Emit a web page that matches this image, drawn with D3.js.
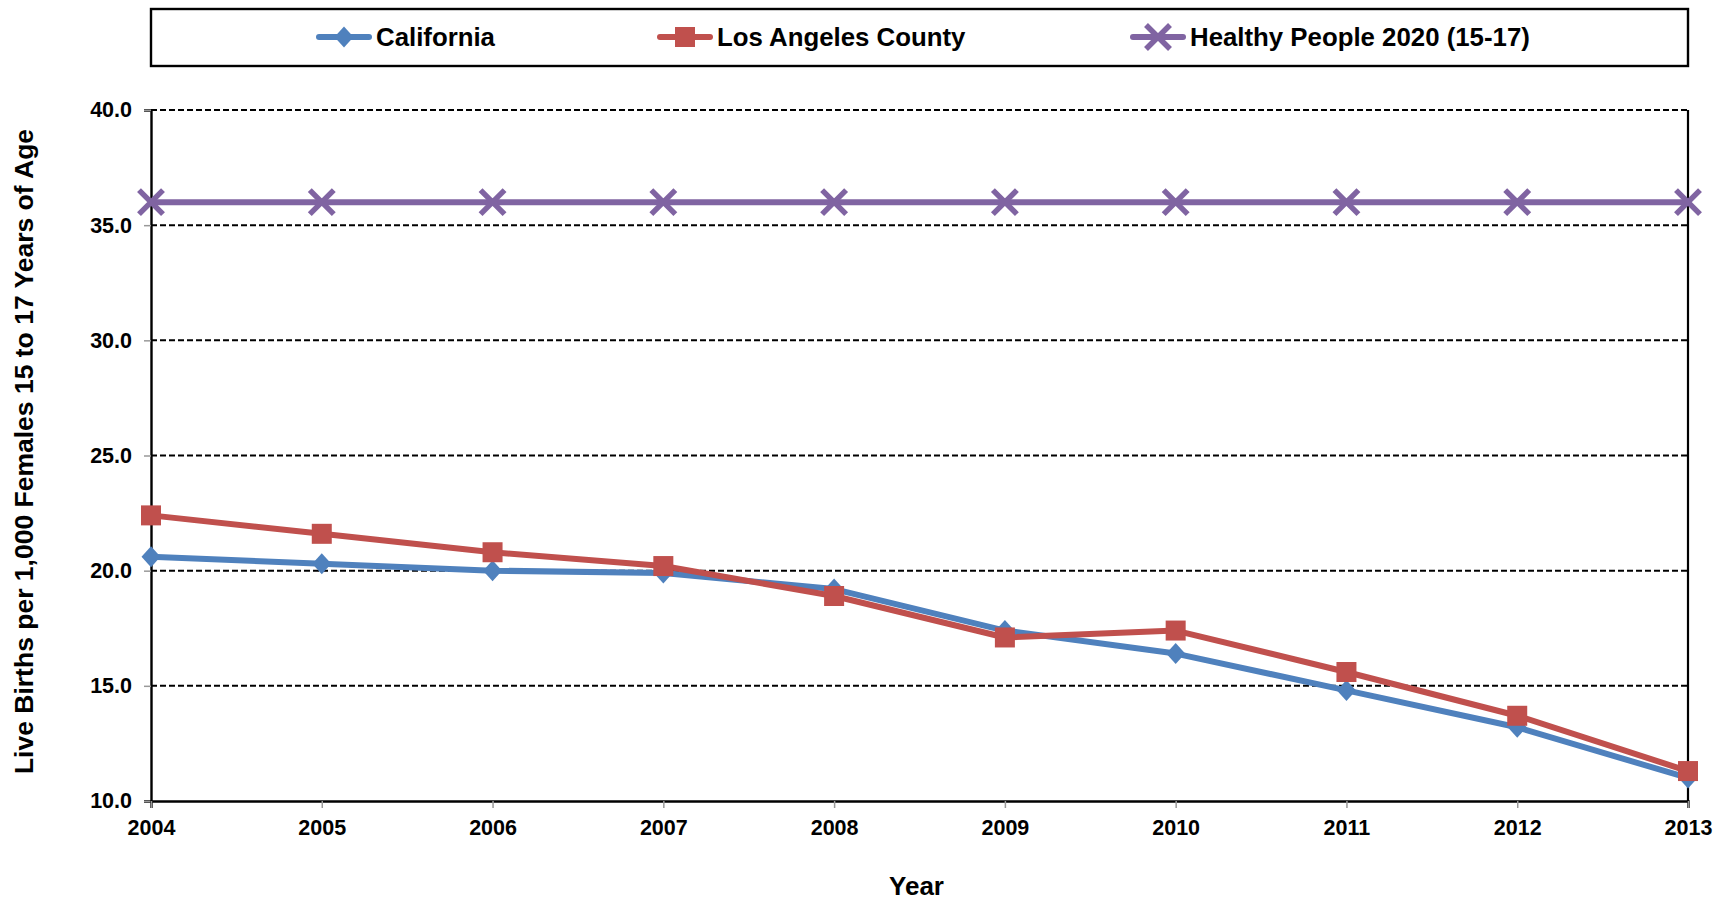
<!DOCTYPE html>
<html>
<head>
<meta charset="utf-8">
<script src="https://cdn.jsdelivr.net/npm/d3@7"></script>
<style>
  html, body { margin: 0; padding: 0; background: #fff; }
  svg { display: block; }
  text { font-family: "Liberation Sans", Arial, sans-serif; font-weight: bold; fill: #000; }
</style>
</head>
<body>
<svg id="chart" width="1725" height="900"></svg>
<script>
const years = [2004, 2005, 2006, 2007, 2008, 2009, 2010, 2011, 2012, 2013];
const california = [20.6, 20.3, 20.0, 19.9, 19.2, 17.4, 16.4, 14.8, 13.2, 11.0];
const losAngeles = [22.4, 21.6, 20.8, 20.2, 18.9, 17.1, 17.4, 15.6, 13.7, 11.3];
const healthyPeople = [36.0, 36.0, 36.0, 36.0, 36.0, 36.0, 36.0, 36.0, 36.0, 36.0];
const yTicks = [10, 15, 20, 25, 30, 35, 40];
const seriesNames = ["California", "Los Angeles County", "Healthy People 2020 (15-17)"];
const seriesColors = ["#4F81BD", "#C0504D", "#8064A2"];
const seriesMarkers = ["diamond", "square", "x"];
const yTitle = "Live Births per 1,000 Females 15 to 17 Years of Age";
const xTitle = "Year";

const svg = d3.select("#chart");
const L = 151, R = 1688, T = 110, B = 801;

const x = d3.scalePoint().domain(years).range([L, R]).padding(0);
const y = d3.scaleLinear().domain([10, 40]).range([B, T]);

// gridlines
svg.append("g").selectAll("line").data(yTicks.filter(d => d > 10)).join("line")
  .attr("x1", L).attr("x2", R).attr("y1", d => y(d)).attr("y2", d => y(d))
  .attr("stroke", "#000").attr("stroke-width", 2).attr("stroke-dasharray", "6,3");

// right border
svg.append("line").attr("x1", R).attr("x2", R).attr("y1", T).attr("y2", B)
  .attr("stroke", "#000").attr("stroke-width", 2.2);

const tickFont = "21.5px";
// axes
const yAxis = d3.axisLeft(y).tickValues(yTicks).tickFormat(d3.format(".1f")).tickSize(7).tickPadding(12);
const gy = svg.append("g").attr("transform", `translate(${L},0)`).call(yAxis);
gy.select(".domain").attr("stroke", "#000").attr("stroke-width", 2.4);
gy.selectAll(".tick line").attr("stroke", "#999").attr("stroke-width", 1.5);
gy.selectAll(".tick text").style("font-size", tickFont).style("font-family", '"Liberation Sans", Arial, sans-serif').style("font-weight", "bold").attr("fill", "#000");

const xAxis = d3.axisBottom(x).tickSize(7).tickPadding(12);
const gx = svg.append("g").attr("transform", `translate(0,${B})`).call(xAxis);
gx.select(".domain").attr("stroke", "#000").attr("stroke-width", 2.4);
gx.selectAll(".tick line").attr("stroke", "#999").attr("stroke-width", 1.5);
gx.selectAll(".tick text").style("font-size", tickFont).style("font-family", '"Liberation Sans", Arial, sans-serif').style("font-weight", "bold").attr("fill", "#000");

function drawMarker(g, type, color) {
  if (type === "diamond") {
    g.append("path").attr("d", "M0,-10.5L9.5,0L0,10.5L-9.5,0Z").attr("fill", color);
  } else if (type === "square") {
    g.append("rect").attr("x", -10).attr("y", -10).attr("width", 20).attr("height", 20).attr("fill", color);
  } else {
    g.append("path").attr("d", "M-12,-12L12,12M-12,12L12,-12").attr("stroke", color).attr("stroke-width", 5.5).attr("fill", "none");
  }
}

const allSeries = [california, losAngeles, healthyPeople];
const order = [2, 0, 1];
const line = d3.line().x((d, i) => x(years[i])).y(d => y(d));
order.forEach(si => {
  const vals = allSeries[si];
  const g = svg.append("g");
  g.append("path").datum(vals).attr("d", line).attr("fill", "none")
    .attr("stroke", seriesColors[si]).attr("stroke-width", 6).attr("stroke-linejoin", "round");
  vals.forEach((v, i) => {
    const m = g.append("g").attr("transform", `translate(${x(years[i])},${y(v)})`);
    drawMarker(m, seriesMarkers[si], seriesColors[si]);
  });
});

// legend
svg.append("rect").attr("x", 151).attr("y", 9).attr("width", 1537).attr("height", 57)
  .attr("fill", "#fff").attr("stroke", "#000").attr("stroke-width", 2.4);
const legendX = [319, 660, 1133];
seriesNames.forEach((name, i) => {
  const g = svg.append("g").attr("transform", `translate(${legendX[i]},37)`);
  g.append("line").attr("x1", 0).attr("x2", 50).attr("y1", 0).attr("y2", 0)
    .attr("stroke", seriesColors[i]).attr("stroke-width", 6).attr("stroke-linecap", "round");
  const m = g.append("g").attr("transform", "translate(25,0)");
  drawMarker(m, seriesMarkers[i], seriesColors[i]);
  g.append("text").attr("x", 57).attr("y", 0).attr("dy", "0.35em")
    .style("font-size", "25.8px").text(name);
});

// axis titles
svg.append("text").attr("transform", `translate(33,${(T + B) / 2 - 4}) rotate(-90)`)
  .attr("text-anchor", "middle").style("font-size", "26.5px").text(yTitle);
svg.append("text").attr("x", (L + R) / 2 - 3).attr("y", 895)
  .attr("text-anchor", "middle").style("font-size", "26px").text(xTitle);
</script>
</body>
</html>
